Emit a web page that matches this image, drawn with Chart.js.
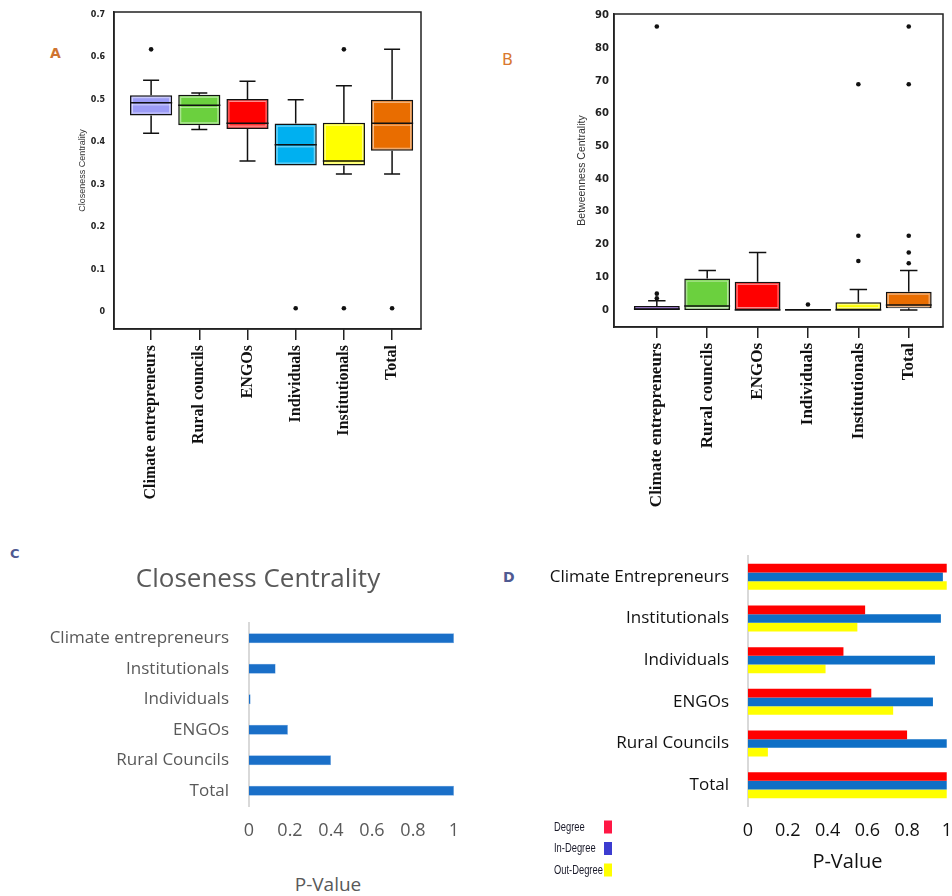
<!DOCTYPE html>
<html>
<head>
<meta charset="utf-8">
<script src="https://cdn.jsdelivr.net/npm/chart.js@4.4.0/dist/chart.umd.min.js"></script>
<style>
  body { margin: 0; background: #fff; width: 952px; height: 896px; position: relative; overflow: hidden; }
  canvas { position: absolute; }
  .tag { position: absolute; font-family: 'DejaVu Sans', sans-serif; font-weight: bold; }
  .pv { position: absolute; font-family: 'Open Sans', sans-serif; white-space: nowrap; transform: translate(-50%, -50%); }
</style>
</head>
<body>
<div class="tag" style="left:50px;top:45px;font-size:14px;color:#cf7430">A</div>
<div class="tag" style="left:502px;top:50px;font-size:16px;font-weight:normal;color:#d9782f">B</div>
<div class="tag" style="left:10px;top:546px;font-size:13px;color:#4f5a92">C</div>
<div class="tag" style="left:503px;top:569px;font-size:14px;color:#4f5a92">D</div>

<canvas id="chartA" width="470" height="540" style="left:0;top:0"></canvas>
<canvas id="chartB" width="462" height="540" style="left:490px;top:0"></canvas>
<canvas id="chartC" width="516" height="300" style="left:0;top:560px"></canvas>
<canvas id="chartD" width="462" height="356" style="left:490px;top:540px"></canvas>
<div class="pv" style="left:328px;top:884px;font-size:19px;color:#595959">P-Value</div>

<script>
    Chart.defaults.animation = false;
    Chart.defaults.plugins.legend.display = false;
    Chart.defaults.plugins.tooltip.enabled = false;

    // box plots (A, B)
    const groupsBox = ['Climate entrepreneurs', 'Rural councils', 'ENGOs', 'Individuals', 'Institutionals', 'Total'];

    // A - closeness centrality
    const closeLow = [0.421, 0.43, 0.356, 0.345, 0.325, 0.325];
    const closeQ1 = [0.463, 0.44, 0.431, 0.345, 0.345, 0.38];
    const closeMed = [0.493, 0.487, 0.445, 0.394, 0.356, 0.445];
    const closeQ3 = [0.511, 0.512, 0.502, 0.444, 0.446, 0.5];
    const closeHigh = [0.546, 0.516, 0.544, 0.5, 0.533, 0.619];
    const closeOut = [[0.619], [], [], [0.009], [0.619, 0.009], [0.009]];
    const ticksA = [0, 0.1, 0.2, 0.3, 0.4, 0.5, 0.6, 0.7];
    const colorsA = ['#9c9cf6', '#6bd03e', '#ff0000', '#00b0f0', '#ffff00', '#e96d00'];

    // B - betweenness centrality
    const betLow = [0, 0, 0, 0, 0, 0];
    const betQ1 = [0, 0, 0, 0, 0, 0.5];
    const betMed = [0.3, 1.2, 0, 0, 0, 1.5];
    const betQ3 = [1.2, 9.6, 8.6, 0.3, 2.4, 5.6];
    const betHigh = [2.8, 12.1, 17.6, 0.3, 6.3, 12.1];
    const betOut = [[86.7, 5.0, 3.6], [], [], [1.7], [69, 22.7, 15.0], [86.7, 69, 22.7, 17.6, 14.3]];
    const ticksB = [0, 10, 20, 30, 40, 50, 60, 70, 80, 90];
    const colorsB = ['#9d5cf5', '#6bd03e', '#ff0000', '#00b0f0', '#ffff00', '#e96d00'];

    // C - closeness p-values
    const groupsC = ['Climate entrepreneurs', 'Institutionals', 'Individuals', 'ENGOs', 'Rural Councils', 'Total'];
    const pCloseness = [1, 0.13, 0.008, 0.19, 0.40, 1];

    // D - degree p-values
    const groupsD = ['Climate Entrepreneurs', 'Institutionals', 'Individuals', 'ENGOs', 'Rural Councils', 'Total'];
    const pDegree = [1, 0.589, 0.48, 0.62, 0.80, 1];
    const pInDegree = [0.98, 0.97, 0.94, 0.93, 1, 1];
    const pOutDegree = [1, 0.55, 0.39, 0.73, 0.10, 1];
    const ticksP = [0, 0.2, 0.4, 0.6, 0.8, 1];


    // whiskers, medians and frame for the box plots
    const boxParts = {
        id: 'boxParts',
        afterDatasetsDraw(chart, args, o) {
            if (!o.low) return;
            const ctx = chart.ctx, xs = chart.scales.x, ys = chart.scales.y;
            const bars = chart.getDatasetMeta(0).data;
            ctx.save();
            bars.forEach((bar, i) => {
                const cx = xs.getPixelForValue(i);
                const hw = bar.width / 2, cap = hw * 0.38;
                const y1 = ys.getPixelForValue(o.q1[i]), y3 = ys.getPixelForValue(o.q3[i]);
                const yl = ys.getPixelForValue(o.low[i]), yh = ys.getPixelForValue(o.high[i]);
                const ym = ys.getPixelForValue(o.med[i]);
                // light inner edge
                if (y1 - y3 > 6) {
                    ctx.strokeStyle = 'rgba(255,255,255,0.55)';
                    ctx.lineWidth = 1;
                    ctx.strokeRect(cx - hw + 2.5, y3 + 2.5, hw * 2 - 5, y1 - y3 - 5);
                    ctx.beginPath();
                    ctx.moveTo(cx - hw + 2, ym + 2); ctx.lineTo(cx + hw - 2, ym + 2);
                    ctx.stroke();
                }
                ctx.strokeStyle = '#111';
                ctx.lineWidth = 1.5;
                ctx.beginPath();
                if (o.high[i] > o.q3[i]) {
                    ctx.moveTo(cx, y3); ctx.lineTo(cx, yh);
                    ctx.moveTo(cx - cap, yh); ctx.lineTo(cx + cap, yh);
                }
                if (o.low[i] < o.q1[i]) {
                    ctx.moveTo(cx, y1); ctx.lineTo(cx, yl);
                    ctx.moveTo(cx - cap, yl); ctx.lineTo(cx + cap, yl);
                }
                ctx.moveTo(cx - hw, ym); ctx.lineTo(cx + hw, ym);
                ctx.stroke();
            });
            const a = chart.chartArea;
            ctx.lineWidth = 1.5;
            ctx.strokeStyle = '#222';
            ctx.strokeRect(a.left, a.top, a.right - a.left, a.bottom - a.top);
            ctx.restore();
        }
    };

    function makeBox(id, s) {
        const outliers = [];
        s.out.forEach((list, i) => list.forEach(v => outliers.push({ x: i, y: v })));
        return new Chart(document.getElementById(id), {
            type: 'bar',
            data: {
                datasets: [{
                    data: s.q1.map((v, i) => ({ x: i, y: [v, s.q3[i]] })),
                    backgroundColor: s.colors,
                    borderColor: '#111',
                    borderWidth: 1.5,
                    borderSkipped: false,
                    categoryPercentage: 1,
                    barPercentage: s.barPct,
                    order: 2
                }, {
                    type: 'scatter',
                    data: outliers,
                    pointRadius: 2.3,
                    pointBackgroundColor: '#111',
                    pointBorderColor: '#111',
                    pointBorderWidth: 0,
                    order: 1
                }]
            },
            options: {
                responsive: false,
                layout: { padding: { left: s.padLeft, top: s.padTop, right: s.padRight, bottom: 0 } },
                plugins: {
                    boxParts: { low: s.low, q1: s.q1, med: s.med, q3: s.q3, high: s.high }
                },
                scales: {
                    x: {
                        type: 'linear',
                        min: s.xMin,
                        max: s.xMax,
                        offset: false,
                        afterBuildTicks: axis => { axis.ticks = groupsBox.map((g, i) => ({ value: i })); },
                        afterFit: axis => { axis.height = s.xHeight; },
                        ticks: {
                            callback: v => groupsBox[v],
                            minRotation: 90,
                            maxRotation: 90,
                            autoSkip: false,
                            padding: 5,
                            color: '#111',
                            font: { family: "'Liberation Serif', serif", weight: 'bold', size: s.labelSize }
                        },
                        grid: { offset: false, drawOnChartArea: false, drawTicks: true, tickLength: 11, color: '#222', lineWidth: 1.5 },
                        border: { color: '#222', width: 1.5 }
                    },
                    y: {
                        min: s.yMin,
                        max: s.yMax,
                        afterBuildTicks: axis => { axis.ticks = s.ticks.map(v => ({ value: v })); },
                        afterFit: axis => { axis.width = s.yWidth; },
                        ticks: {
                            callback: v => String(v),
                            padding: 0,
                            color: '#222',
                            font: { family: "'DejaVu Sans', sans-serif", weight: 'bold', size: s.tickSize }
                        },
                        grid: { display: false, drawTicks: true, tickLength: s.tickPad },
                        border: { color: '#222', width: 1.5 },
                        title: {
                            display: true,
                            text: s.title,
                            color: '#333',
                            padding: { top: 4, bottom: 4 },
                            font: { family: "'Liberation Sans', sans-serif", size: s.titleSize }
                        }
                    }
                }
            },
            plugins: [boxParts]
        });
    }

    const chartA = makeBox('chartA', {
        low: closeLow, q1: closeQ1, med: closeMed, q3: closeQ3, high: closeHigh, out: closeOut,
        colors: colorsA, ticks: ticksA, title: 'Closeness Centrality',
        yMin: -0.04, yMax: 0.707, xMin: -0.77, xMax: 5.6, barPct: 0.875,
        padLeft: 73, padTop: 12, padRight: 49, yWidth: 41, xHeight: 211,
        tickPad: 9, tickSize: 8, titleSize: 9, labelSize: 16
    });

    const chartB = makeBox('chartB', {
        low: betLow, q1: betQ1, med: betMed, q3: betQ3, high: betHigh, out: betOut,
        colors: colorsB, ticks: ticksB, title: 'Betweenness Centrality',
        yMin: -5.2, yMax: 90.5, xMin: -0.85, xMax: 5.68, barPct: 0.91,
        padLeft: 82, padTop: 14, padRight: 9, yWidth: 42, xHeight: 213,
        tickPad: 5, tickSize: 10, titleSize: 10.5, labelSize: 17
    });


    // C
    const titleC = {
        id: 'titleC',
        afterDraw(chart, args, o) {
            const ctx = chart.ctx;
            ctx.save();
            ctx.font = "26px 'Open Sans', sans-serif";
            ctx.fillStyle = '#595959';
            ctx.textAlign = 'center';
            ctx.textBaseline = 'middle';
            ctx.fillText(o.text, o.x, o.y);
            ctx.restore();
        }
    };

    const chartC = new Chart(document.getElementById('chartC'), {
        type: 'bar',
        data: {
            labels: groupsC,
            datasets: [{
                data: pCloseness,
                backgroundColor: '#1a6fc8',
                borderColor: '#7fb0e6',
                borderWidth: 0.5,
                categoryPercentage: 1,
                barPercentage: 0.33
            }]
        },
        options: {
            responsive: false,
            indexAxis: 'y',
            layout: { padding: { left: 0, right: 62, top: 63, bottom: 0 } },
            plugins: {
                titleC: { text: 'Closeness Centrality', x: 258, y: 20 }
            },
            scales: {
                x: {
                    min: 0,
                    max: 1,
                    afterBuildTicks: axis => { axis.ticks = ticksP.map(v => ({ value: v })); },
                    afterFit: axis => { axis.height = 54; },
                    ticks: { callback: v => String(v), padding: 0, color: '#595959', font: { family: "'Open Sans', sans-serif", size: 18 } },
                    grid: { display: false, drawTicks: true, tickLength: 14 },
                    border: { display: false }
                },
                y: {
                    afterFit: axis => { axis.width = 249; },
                    ticks: { padding: 0, color: '#595959', font: { family: "'Open Sans', sans-serif", size: 17 } },
                    grid: { display: false, drawTicks: true, tickLength: 20 },
                    border: { color: '#d9d9d9', width: 2 }
                }
            }
        },
        plugins: [titleC]
    });


    // D
    const legendD = {
        id: 'legendD',
        afterDraw(chart, args, o) {
            const ctx = chart.ctx;
            ctx.save();
            ctx.font = "12px 'Liberation Sans', sans-serif";
            ctx.textBaseline = 'middle';
            chart.data.datasets.forEach((ds, i) => {
                const y = o.top + i * o.step;
                ctx.save();
                ctx.translate(o.left, y);
                ctx.scale(0.78, 1.1);
                ctx.fillStyle = '#1a1a2a';
                ctx.fillText(ds.label, 0, 0);
                ctx.restore();
                ctx.fillStyle = o.colors[i];
                ctx.fillRect(o.boxLeft, y - 6.5, 8, 13);
            });
            ctx.restore();
        }
    };

    const chartD = new Chart(document.getElementById('chartD'), {
        type: 'bar',
        data: {
            labels: groupsD,
            datasets: [
                { label: 'Degree', data: pDegree, backgroundColor: '#ff0000' },
                { label: 'In-Degree', data: pInDegree, backgroundColor: '#0f6fc6' },
                { label: 'Out-Degree', data: pOutDegree, backgroundColor: '#ffff00' }
            ]
        },
        options: {
            responsive: false,
            indexAxis: 'y',
            datasets: { bar: { categoryPercentage: 0.625, barPercentage: 1 } },
            layout: { padding: { left: 0, right: 3, top: 16, bottom: 0 } },
            plugins: {
                legendD: { left: 64, boxLeft: 114, top: 287, step: 21.5, colors: ['#ff1744', '#3c3cd0', '#ffff00'] }
            },
            scales: {
                x: {
                    min: 0,
                    max: 1,
                    afterBuildTicks: axis => { axis.ticks = ticksP.map(v => ({ value: v })); },
                    afterFit: axis => { axis.height = 90; },
                    ticks: { callback: v => String(v), padding: 0, color: '#111', font: { family: "'Open Sans', sans-serif", size: 18 } },
                    grid: { display: false, drawTicks: true, tickLength: 14 },
                    border: { display: false },
                    title: {
                        display: true,
                        text: 'P-Value',
                        color: '#111',
                        padding: { top: 0, bottom: 22 },
                        font: { family: "'Open Sans', sans-serif", size: 20 }
                    }
                },
                y: {
                    afterFit: axis => { axis.width = 258; },
                    ticks: { padding: 0, color: '#111', font: { family: "'Open Sans', sans-serif", size: 17 } },
                    grid: { display: false, drawTicks: true, tickLength: 19 },
                    border: { color: '#d9d9d9', width: 2 }
                }
            }
        },
        plugins: [legendD]
    });
</script>
</body>
</html>
